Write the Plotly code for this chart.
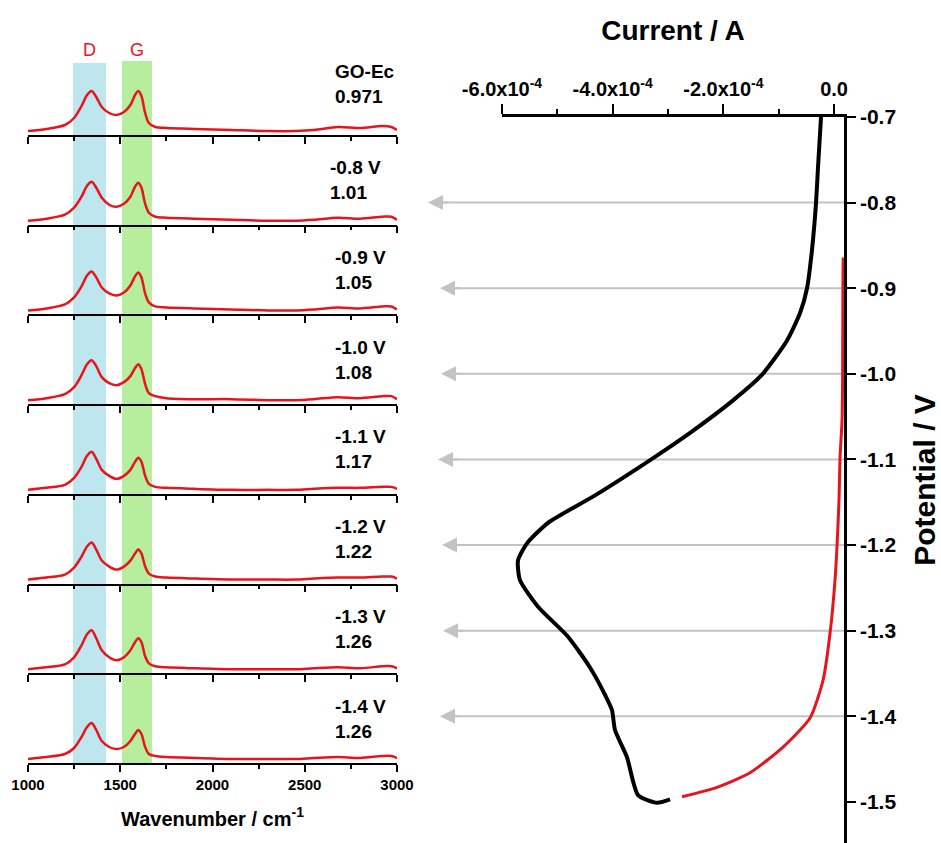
import plotly.graph_objects as go

W, H = 941, 843

# ---------------- Raman spectra data ----------------
WAVENUMBER = [1000, 1100, 1200, 1250, 1290, 1320, 1345, 1370, 1400, 1440, 1480, 1520, 1555, 1580,
              1598, 1615, 1635, 1655, 1690, 1750, 1900, 2100, 2300, 2450, 2550, 2680, 2800, 2920,
              2970, 3000]
SPEC_GOEC = [4, 6, 10, 17, 29, 40, 44, 38, 28, 22, 20, 23, 30, 40, 44, 39, 22, 12, 8, 7, 6, 5, 4, 4, 5, 8, 7, 9, 8, 5]
SPEC_08 = [4, 6, 10, 17, 28, 39, 43, 37, 27, 20, 18, 21, 28, 38, 42, 37, 21, 12, 8, 7, 6, 5, 4, 4, 5, 7, 6, 8, 8, 5]
SPEC_09 = [4, 6, 10, 17, 28, 39, 43, 37, 27, 21, 19, 22, 29, 38, 42, 37, 21, 12, 8, 7, 6, 5, 4, 4, 5, 7, 6, 8, 8, 5]
SPEC_10 = [4, 6, 10, 17, 29, 40, 44, 38, 27, 21, 19, 22, 28, 36, 40, 35, 20, 11, 8, 6, 5, 5, 4, 4, 5, 7, 6, 8, 8, 5]
SPEC_11 = [4, 6, 9, 16, 27, 38, 42, 35, 24, 18, 15, 18, 24, 32, 36, 32, 18, 10, 7, 6, 5, 4, 4, 4, 5, 6, 6, 7, 7, 5]
SPEC_12 = [4, 6, 9, 16, 27, 37, 41, 34, 23, 17, 14, 17, 23, 30, 34, 30, 17, 10, 7, 6, 5, 4, 4, 4, 5, 6, 6, 7, 7, 5]
SPEC_13 = [4, 6, 9, 16, 28, 39, 43, 35, 23, 16, 13, 16, 23, 31, 35, 31, 17, 10, 7, 6, 5, 4, 4, 4, 5, 6, 5, 7, 7, 5]
SPEC_14 = [4, 6, 9, 15, 26, 36, 40, 33, 22, 16, 14, 16, 22, 29, 33, 29, 16, 9, 7, 6, 5, 4, 4, 4, 5, 6, 5, 7, 7, 5]
SPECTRA = [SPEC_GOEC, SPEC_08, SPEC_09, SPEC_10, SPEC_11, SPEC_12, SPEC_13, SPEC_14]
SPEC_LABELS = ["GO-Ec", "-0.8 V", "-0.9 V", "-1.0 V", "-1.1 V", "-1.2 V", "-1.3 V", "-1.4 V"]
ID_IG = ["0.971", "1.01", "1.05", "1.08", "1.17", "1.22", "1.26", "1.26"]
D_BAND = [1244, 1423]
G_BAND = [1510, 1672]
WN_TICKS = [1000, 1500, 2000, 2500, 3000]
WN_MINOR = [1250, 1750, 2250, 2750]

# ---------------- CV data ----------------
FWD_I = [-2.35e-5, -2.89e-5, -3.25e-5, -3.98e-5, -4.88e-5, -6.14e-5, -8.49e-5, -1.301e-4, -1.825e-4,
         -2.602e-4, -3.235e-4, -4.319e-4, -5.169e-4, -5.548e-4, -5.711e-4, -5.675e-4, -5.349e-4,
         -4.807e-4, -4.410e-4, -4.138e-4, -4.012e-4, -3.958e-4, -3.741e-4, -3.542e-4, -3.199e-4, -2.964e-4]
FWD_V = [-0.700, -0.758, -0.800, -0.855, -0.900, -0.929, -0.961, -1.001, -1.031, -1.069, -1.097, -1.142,
         -1.174, -1.198, -1.218, -1.241, -1.272, -1.307, -1.343, -1.375, -1.393, -1.416, -1.448, -1.492,
         -1.501, -1.497]
REV_I = [-2.747e-4, -2.114e-4, -1.518e-4, -9.22e-5, -4.34e-5, -1.99e-5, -7.2e-6, 1.8e-6, 5.4e-6, 9.0e-6,
         1.08e-5, 1.45e-5, 1.55e-5, 1.6e-5, 1.65e-5]
REV_V = [-1.494, -1.483, -1.466, -1.436, -1.402, -1.358, -1.303, -1.241, -1.201, -1.147, -1.098, -1.054,
         -1.001, -0.900, -0.864]
I_TICKS = [-6e-4, -4e-4, -2e-4, 0.0]
I_TICKTEXT = ["-6.0x10<sup>-4</sup>", "-4.0x10<sup>-4</sup>", "-2.0x10<sup>-4</sup>", "0.0"]
I_MINOR = [-5e-4, -3e-4, -1e-4]
V_TICKS = [-0.7, -0.8, -0.9, -1.0, -1.1, -1.2, -1.3, -1.4, -1.5]
V_TICKTEXT = ["-0.7", "-0.8", "-0.9", "-1.0", "-1.1", "-1.2", "-1.3", "-1.4", "-1.5"]
ARROW_V = [-0.8, -0.9, -1.0, -1.1, -1.2, -1.3, -1.4]

FONT = "Liberation Sans, Arial, sans-serif"


def px(x):
    return x / W


def py(y):
    return 1 - y / H


fig = go.Figure()
layout = dict(width=W, height=H, margin=dict(l=0, r=0, t=0, b=0, autoexpand=False),
              paper_bgcolor="white", plot_bgcolor="rgba(0,0,0,0)", showlegend=False,
              font=dict(family=FONT, color="black"))

baselines = [135 + i * (763 - 135) / 7 for i in range(8)]
annotations = []
shapes = []

for i, spec in enumerate(SPECTRA):
    k = i + 1
    fig.add_trace(go.Scatter(x=WAVENUMBER, y=spec, mode="lines", xaxis=f"x{k}", yaxis=f"y{k}",
                             line=dict(color="#e8141c", width=2.5, shape="spline", smoothing=0.8),
                             hoverinfo="skip"))
    b = baselines[i]
    layout[f"xaxis{k}"] = dict(domain=[px(28), px(397)], range=[1000, 3000], anchor=f"y{k}",
                               automargin=False,
                               showline=True, linecolor="black", linewidth=1.5, showgrid=False,
                               zeroline=False, ticks="outside", tickvals=WN_TICKS, ticklen=7,
                               tickwidth=1.5, tickcolor="black",
                               minor=dict(tickvals=WN_MINOR, ticks="outside", ticklen=4,
                                          tickwidth=1.5, tickcolor="black"),
                               showticklabels=(k == 8),
                               tickfont=dict(size=15, family=FONT, weight="bold"))
    layout[f"yaxis{k}"] = dict(domain=[py(b), py(b - 80)], range=[0, 80], anchor=f"x{k}",
                               automargin=False, visible=False, fixedrange=True)
    top_off, bot_off = (63, 38) if i == 0 else (57, 32)
    xl = 328 if i == 1 else 333
    annotations.append(dict(x=px(xl), y=py(b - top_off), xref="paper", yref="paper",
                            text=SPEC_LABELS[i], showarrow=False, xanchor="left", yanchor="middle",
                            font=dict(size=19, family=FONT, weight="bold")))
    annotations.append(dict(x=px(xl), y=py(b - bot_off), xref="paper", yref="paper",
                            text=ID_IG[i], showarrow=False, xanchor="left", yanchor="middle",
                            font=dict(size=19, family=FONT, weight="bold")))

layout["xaxis8"]["title"] = dict(text="Wavenumber / cm<sup>-1</sup>",
                                 font=dict(size=20, family=FONT, weight="bold"), standoff=20)

# bands
shapes.append(dict(type="rect", xref="x8", yref="paper", x0=D_BAND[0], x1=D_BAND[1],
                   y0=py(763), y1=py(63), fillcolor="#bde6ef", line=dict(width=0), layer="below"))
shapes.append(dict(type="rect", xref="x8", yref="paper", x0=G_BAND[0], x1=G_BAND[1],
                   y0=py(763), y1=py(61), fillcolor="#b6ee9e", line=dict(width=0), layer="below"))
annotations.append(dict(x=(D_BAND[0] + D_BAND[1]) / 2, xref="x8", y=py(50), yref="paper", text="D",
                        showarrow=False, yanchor="middle",
                        font=dict(size=18, color="#e8141c", family=FONT)))
annotations.append(dict(x=(G_BAND[0] + G_BAND[1]) / 2, xref="x8", y=py(50), yref="paper", text="G",
                        showarrow=False, yanchor="middle",
                        font=dict(size=18, color="#e8141c", family=FONT)))

# ---------------- CV panel ----------------
fig.add_trace(go.Scatter(x=FWD_I, y=FWD_V, mode="lines", xaxis="x9", yaxis="y9",
                         line=dict(color="black", width=4, shape="spline", smoothing=0.6),
                         hoverinfo="skip"))
fig.add_trace(go.Scatter(x=REV_I, y=REV_V, mode="lines", xaxis="x9", yaxis="y9",
                         line=dict(color="#e8141c", width=3, shape="spline", smoothing=0.6),
                         hoverinfo="skip"))

layout["xaxis9"] = dict(domain=[px(502), px(844)], range=[-6e-4, 1.8e-5], anchor="y9", side="top",
                        automargin=False,
                        showline=True, linecolor="black", linewidth=2.5, showgrid=False, zeroline=False,
                        ticks="outside", tickvals=I_TICKS, ticktext=I_TICKTEXT, ticklen=10, tickwidth=2,
                        tickcolor="black",
                        minor=dict(tickvals=I_MINOR, ticks="outside", ticklen=5, tickwidth=2,
                                   tickcolor="black"),
                        tickfont=dict(size=20, family=FONT, weight="bold"),
                        title=dict(text="Current / A", font=dict(size=28, family=FONT, weight="bold"),
                                   standoff=27))
layout["yaxis9"] = dict(domain=[0, py(117)], range=[-1.548, -0.7], anchor="x9", side="right",
                        automargin=False,
                        showline=True, linecolor="black", linewidth=2.5, showgrid=False, zeroline=False,
                        ticks="outside", tickvals=V_TICKS, ticktext=V_TICKTEXT, ticklen=9, tickwidth=2,
                        tickcolor="black",
                        tickfont=dict(size=21, family=FONT, weight="bold"),
                        title=dict(text="Potential / V", font=dict(size=30, family=FONT, weight="bold"),
                                   standoff=22))

tips = [428, 440, 441, 438, 442, 443, 440]
for v, t in zip(ARROW_V, tips):
    shapes.append(dict(type="line", xref="paper", yref="y9", x0=px(t + 6), x1=px(844), y0=v, y1=v,
                       line=dict(color="#c3c3c3", width=2), layer="below"))
    annotations.append(dict(x=px(t), y=v, xref="paper", yref="y9", text="", showarrow=True,
                            ax=22, ay=0, arrowhead=2, arrowsize=1.5, arrowwidth=2,
                            arrowcolor="#c3c3c3"))

layout["annotations"] = annotations
layout["shapes"] = shapes
fig.update_layout(**layout)
fig.write_html("out.html")
